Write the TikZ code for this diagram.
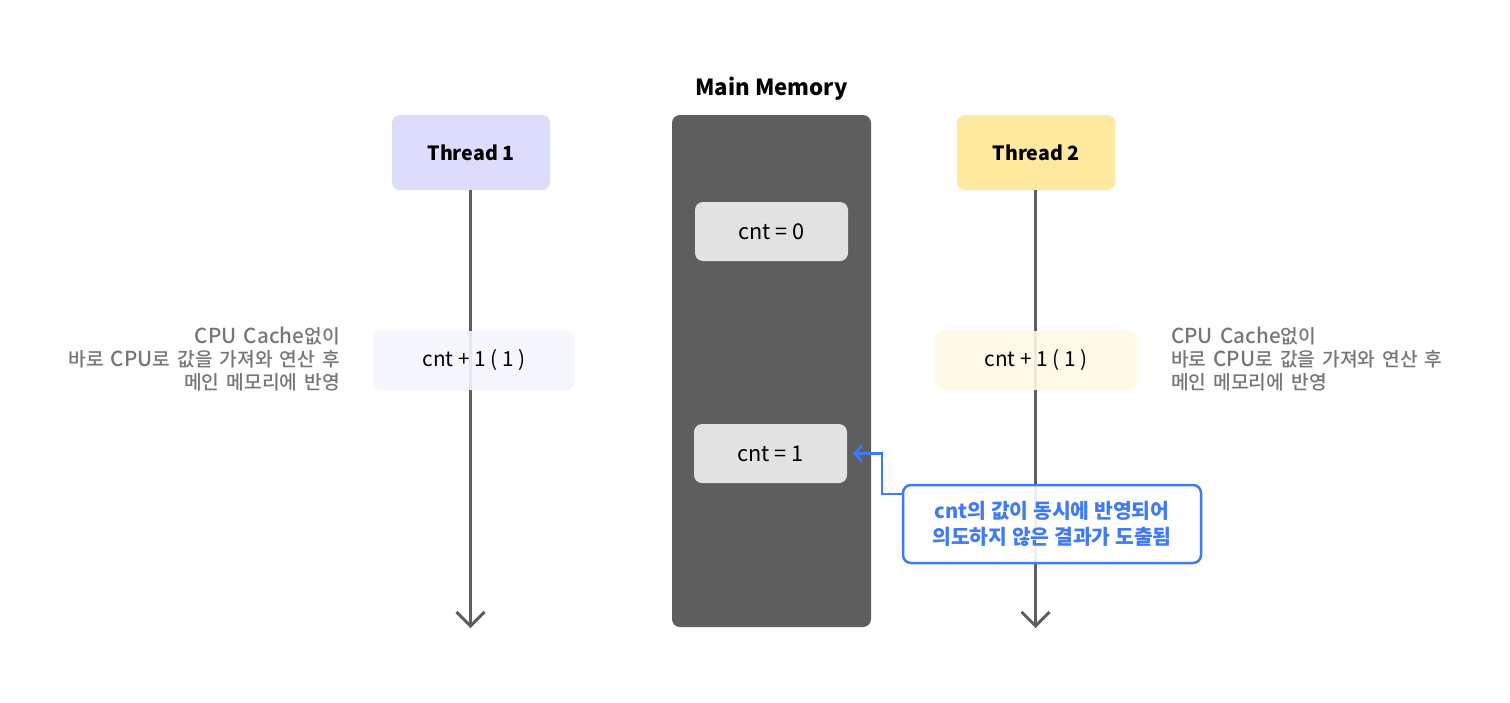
\documentclass[tikz,border=0pt]{standalone}
\usepackage{fontspec}
\setmainfont{Noto Sans CJK KR}[Scale=1.18]
\newfontfamily\kr{Noto Sans CJK KR}[Scale=1.2]
\newfontfamily\med{Noto Sans CJK KR Medium}[Scale=1.18, WordSpace=1.6]
\newfontfamily\krmed{Noto Sans CJK KR Medium}[Scale=1.1, WordSpace=1.6]
\usetikzlibrary{arrows.meta, positioning, calc}

\definecolor{threadA}{HTML}{DCDCFD}
\definecolor{threadB}{HTML}{FFE99E}
\definecolor{memgray}{HTML}{5E5E5E}
\definecolor{valgray}{HTML}{E2E2E2}
\definecolor{calcA}{HTML}{F5F5FE}
\definecolor{calcB}{HTML}{FFF8E5}
\definecolor{notegray}{HTML}{767676}
\definecolor{noteblue}{HTML}{3F7BF9}

\begin{document}
\begin{tikzpicture}[
    x=1pt, y=-1pt,
    font=\fontsize{18}{22}\selectfont,
    thread/.style={
        rectangle, rounded corners=8pt, draw=none,
        minimum width=158pt, minimum height=75pt, align=center,
        font=\fontsize{16.6}{20}\selectfont\bfseries
    },
    memory/.style={
        rectangle, rounded corners=8pt, fill=memgray,
        minimum width=199pt, minimum height=512pt
    },
    value/.style={
        rectangle, rounded corners=8pt, fill=valgray,
        minimum width=153pt, minimum height=59pt, align=center,
        font=\fontsize{18.4}{22}\selectfont
    },
    calc/.style={
        rectangle, rounded corners=8pt, fill opacity=0.9, text opacity=1,
        minimum width=202pt, minimum height=59pt, align=center,
        font=\fontsize{17.6}{22}\selectfont
    },
    note/.style={
        text=notegray, font=\med\fontsize{17.5}{23}\selectfont, inner sep=0pt
    },
    callout/.style={
        rectangle, rounded corners=8pt, draw=noteblue, line width=2.5pt,
        fill=white, fill opacity=0.9, text opacity=1, text=noteblue,
        minimum width=298pt, minimum height=78pt, align=center,
        font=\fontsize{17}{26}\selectfont\bfseries
    },
    timeline/.style={draw=memgray, line width=3pt,
        -{Straight Barb[length=14pt, width=28pt]}},
    link/.style={draw=noteblue, line width=2.5pt,
        -{Straight Barb[length=7pt, width=16pt]}}
]
\useasboundingbox (0,0) rectangle (1510,702);

% ---------------------------------------------------------------------
% MAIN MEMORY
% ---------------------------------------------------------------------
\node[font=\fontsize{18.8}{24}\selectfont\bfseries] (MemTitle) at (771.5, 89) {Main Memory};
\node[memory] (Memory) at (771.5, 371) {};
\node[value] (Cnt0) at (771.5, 231.5) {cnt = 0};
\node[value] (Cnt1) at (770.5, 453.5) {cnt = 1};

% ---------------------------------------------------------------------
% THREADS
% ---------------------------------------------------------------------
\node[thread, fill=threadA] (Thread1) at (471, 152.5) {Thread 1};
\node[thread, fill=threadB] (Thread2) at (1036, 152.5) {Thread 2};

\coordinate (End1) at (470.5, 628);
\coordinate (End2) at (1035.5, 628);

\draw[timeline] (Thread1.south -| End1) -- (End1);
\draw[timeline] (Thread2.south -| End2) -- (End2);

% Operations on each thread
\node[calc, fill=calcA] (Calc1) at (474, 360.5) {cnt + 1 ( 1 )};
\node[calc, fill=calcB] (Calc2) at (1036, 360.5) {cnt + 1 ( 1 )};

\node[note, anchor=east, align=right] (Note1) at (340, 359)
    {CPU Cache{\krmed 없이}\\{\krmed 바로 }CPU{\krmed 로 값을 가져와 연산 후}\\{\krmed 메인 메모리에 반영}};
\node[note, anchor=west, align=left] (Note2) at (1171, 359)
    {CPU Cache{\krmed 없이}\\{\krmed 바로 }CPU{\krmed 로 값을 가져와 연산 후}\\{\krmed 메인 메모리에 반영}};

% ---------------------------------------------------------------------
% RESULT
% ---------------------------------------------------------------------
\node[callout] (Result) at (1052, 524)
    {cnt{\kr 의 값이 동시에 반영되어}\\{\kr 의도하지 않은 결과가 도출됨}};
\draw[link] ([yshift=-10pt]Result.north west) -- ++(-20, 0) |- ([xshift=6pt]Cnt1.east);

\end{tikzpicture}
\end{document}
